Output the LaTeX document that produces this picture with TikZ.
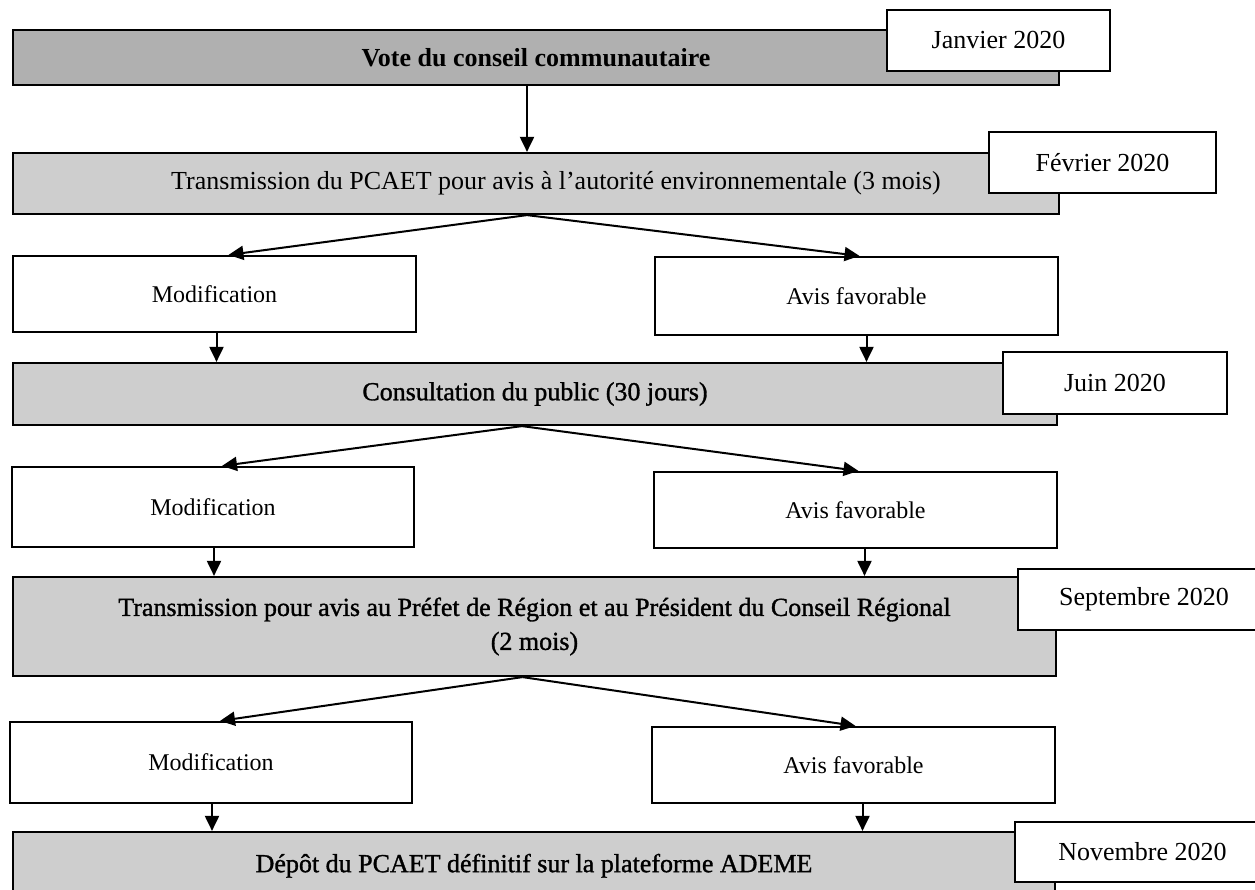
\documentclass[tikz,border=0pt]{standalone}
\usepackage{fontspec}
\setmainfont{Liberation Serif}
\newfontfamily\semib[FakeBold=1.2]{Liberation Serif}
\usetikzlibrary{arrows.meta,calc}
\definecolor{gdark}{RGB}{176,176,176}
\definecolor{glight}{RGB}{206,206,206}
\begin{document}
\begin{tikzpicture}[x=0.5pt,y=-0.5pt,
  gbox/.style={draw=black, line width=1.1pt, fill=glight, inner sep=0pt, align=center, font=\fontsize{13}{17}\selectfont},
  wbox/.style={draw=black, line width=1.1pt, fill=white, inner sep=0pt, font=\fontsize{12}{14}\selectfont},
  dbox/.style={draw=black, line width=1.1pt, fill=white, inner sep=0pt, font=\fontsize{13}{15}\selectfont},
  arr/.style={line width=1pt, -{Triangle[length=7.5pt,width=7pt]}}]
\path[use as bounding box, clip] (0,0) rectangle (1255,890);

% main steps
\node[gbox, fill=gdark, minimum width=523pt, minimum height=27.5pt] (vote) at (536,57.5) {\bfseries Vote du conseil communautaire};
\node[gbox, minimum width=523pt, minimum height=30.5pt] (trans1) at (536,183.5) {\hspace*{20pt}Transmission du PCAET pour avis à l’autorité environnementale (3 mois)};
\node[gbox, minimum width=522pt, minimum height=31pt] (cons) at (535,394) {\semib Consultation du public (30 jours)};
\node[gbox, minimum width=521.5pt, minimum height=49.5pt] (pref) at (534.5,626.5) {\semib Transmission pour avis au Préfet de Région et au Président du Conseil Régional\\\semib (2 mois)};
\node[gbox, minimum width=521pt, minimum height=34pt] (depot) at (534,866) {\raisebox{3pt}{\semib Dépôt du PCAET définitif sur la plateforme ADEME}};

% branches
\node[wbox, minimum width=201.5pt, minimum height=38pt] (mod1) at (214.5,294) {Modification};
\node[wbox, minimum width=201.5pt, minimum height=39pt] (avis1) at (856.5,296) {Avis favorable};
\node[wbox, minimum width=201pt, minimum height=40pt] (mod2) at (213,507) {Modification};
\node[wbox, minimum width=201.5pt, minimum height=38pt] (avis2) at (855.5,510) {Avis favorable};
\node[wbox, minimum width=201pt, minimum height=40.5pt] (mod3) at (211,762.5) {Modification};
\node[wbox, minimum width=201.5pt, minimum height=38pt] (avis3) at (853.5,765) {Avis favorable};

% dates
\node[dbox, minimum width=111.5pt, minimum height=30.5pt] (janv) at (998.5,40.5) {\raisebox{1pt}{Janvier 2020}};
\node[dbox, minimum width=113.5pt, minimum height=30.5pt] (fev) at (1102.5,162.5) {Février 2020};
\node[dbox, minimum width=112pt, minimum height=31pt] (juin) at (1115,383) {Juin 2020};
\node[dbox, minimum width=126pt, minimum height=30.5pt] (sept) at (1144,599.5) {Septembre 2020};
\node[dbox, minimum width=127.5pt, minimum height=30pt] (nov) at (1142.5,852) {Novembre 2020};

% connectors
\coordinate (v0) at ($(vote.south)+(-9,0)$);
\draw[arr] (v0) -- (v0 |- trans1.north);

\coordinate (f1) at ($(trans1.south)+(-9,0)$);
\draw[arr] (f1) -- ($(mod1.north)+(14,0)$);
\draw[arr] (f1) -- ($(avis1.north)+(3,0)$);
\coordinate (m1) at ($(mod1.south)+(2,0)$);
\draw[arr] (m1) -- (m1 |- cons.north);
\coordinate (a1) at ($(avis1.south)+(10,0)$);
\draw[arr] (a1) -- (a1 |- cons.north);

\coordinate (f2) at ($(cons.south)+(-13,0)$);
\draw[arr] (f2) -- ($(mod2.north)+(9,0)$);
\draw[arr] (f2) -- ($(avis2.north)+(3,0)$);
\coordinate (m2) at ($(mod2.south)+(1,0)$);
\draw[arr] (m2) -- (m2 |- pref.north);
\coordinate (a2) at ($(avis2.south)+(9,0)$);
\draw[arr] (a2) -- (a2 |- pref.north);

\coordinate (f3) at ($(pref.south)+(-12,0)$);
\draw[arr] (f3) -- ($(mod3.north)+(9,0)$);
\draw[arr] (f3) -- ($(avis3.north)+(2,0)$);
\coordinate (m3) at ($(mod3.south)+(1,0)$);
\draw[arr] (m3) -- (m3 |- depot.north);
\coordinate (a3) at ($(avis3.south)+(9,0)$);
\draw[arr] (a3) -- (a3 |- depot.north);
\end{tikzpicture}
\end{document}
